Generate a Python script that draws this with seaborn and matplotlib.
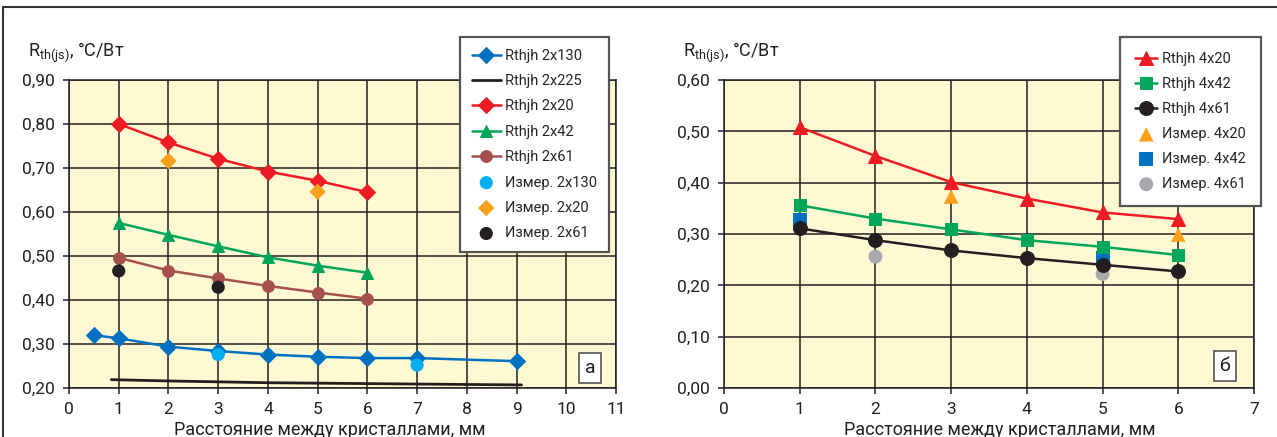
import matplotlib
matplotlib.use("Agg")
import matplotlib.pyplot as plt
from matplotlib.lines import Line2D
import seaborn as sns

# ---- panel a data ----
x_2x130 = [0.5, 1, 2, 3, 4, 5, 6, 7, 9]
y_2x130 = [0.320, 0.313, 0.294, 0.284, 0.276, 0.271, 0.268, 0.268, 0.261]
x_2x225 = [0.85, 2, 3, 4, 5, 6, 7, 8, 9.1]
y_2x225 = [0.219, 0.216, 0.214, 0.212, 0.211, 0.210, 0.209, 0.208, 0.207]
x_2x = [1, 2, 3, 4, 5, 6]
y_2x20 = [0.800, 0.758, 0.721, 0.692, 0.671, 0.645]
y_2x42 = [0.575, 0.548, 0.522, 0.497, 0.478, 0.462]
y_2x61 = [0.496, 0.467, 0.449, 0.432, 0.417, 0.403]
xm_2x130 = [3, 7]
ym_2x130 = [0.276, 0.252]
xm_2x20 = [2, 5]
ym_2x20 = [0.716, 0.646]
xm_2x61 = [1, 3]
ym_2x61 = [0.466, 0.429]

# ---- panel б data ----
x_4x = [1, 2, 3, 4, 5, 6]
y_4x20 = [0.508, 0.452, 0.401, 0.369, 0.342, 0.329]
y_4x42 = [0.356, 0.330, 0.309, 0.288, 0.275, 0.259]
y_4x61 = [0.311, 0.288, 0.268, 0.253, 0.240, 0.227]
xm_4x20 = [3, 6]
ym_4x20 = [0.373, 0.299]
xm_4x42 = [1, 5]
ym_4x42 = [0.328, 0.253]
xm_4x61 = [2, 5]
ym_4x61 = [0.256, 0.222]

yticks_a = [0.20, 0.30, 0.40, 0.50, 0.60, 0.70, 0.80, 0.90]
ylabels_a = ["0,20", "0,30", "0,40", "0,50", "0,60", "0,70", "0,80", "0,90"]
yticks_b = [0.0, 0.1, 0.2, 0.3, 0.4, 0.5, 0.6]
ylabels_b = ["0,00", "0,10", "0,20", "0,30", "0,40", "0,50", "0,60"]
xticks_a = list(range(0, 12))
xticks_b = list(range(0, 8))

RED = "#ED1C24"
GREEN = "#00A65A"
BROWN = "#A4504E"
BLUE = "#0070C0"
CYAN = "#00AEEF"
ORANGE = "#F9A11B"
GREY = "#A7A9AC"
BLACK = "#231F20"
BG = "#FFF9D3"

sns.set_style("ticks")
plt.rcParams["font.family"] = ["Roboto", "DejaVu Sans"]
plt.rcParams["mathtext.fontset"] = "custom"
plt.rcParams["mathtext.rm"] = "Roboto"

fig = plt.figure(figsize=(12.77, 4.37), dpi=100)
ax1 = fig.add_axes([69 / 1277, 1 - 388 / 437, 547 / 1277, 308 / 437])
ax2 = fig.add_axes([724 / 1277, 1 - 388 / 437, 530 / 1277, 308 / 437])

lw = 1.8


def line(ax, x, y, c, m, ms, lab):
    sns.lineplot(x=x, y=y, ax=ax, color=c, marker=m, markersize=ms, markeredgecolor=c,
                 linewidth=lw, label=lab, zorder=3)


def pts(ax, x, y, c, m, s, lab, z=4):
    sns.scatterplot(x=x, y=y, ax=ax, color=c, marker=m, s=s, edgecolor="none",
                    label=lab, zorder=z)


# panel a
line(ax1, x_2x130, y_2x130, BLUE, "D", 8, "Rthjh 2x130")
sns.lineplot(x=x_2x225, y=y_2x225, ax=ax1, color=BLACK, linewidth=2.0, label="Rthjh 2x225", zorder=3)
line(ax1, x_2x, y_2x20, RED, "D", 8, "Rthjh 2x20")
line(ax1, x_2x, y_2x42, GREEN, "^", 9, "Rthjh 2x42")
line(ax1, x_2x, y_2x61, BROWN, "o", 8.5, "Rthjh 2x61")
pts(ax1, xm_2x130, ym_2x130, CYAN, "o", 90, "Измер. 2x130")
pts(ax1, xm_2x20, ym_2x20, ORANGE, "D", 70, "Измер. 2x20")
pts(ax1, xm_2x61, ym_2x61, BLACK, "o", 90, "Измер. 2x61")

# panel б
pts(ax2, xm_4x20, ym_4x20, ORANGE, "^", 110, "Измер. 4x20", z=2.5)
pts(ax2, xm_4x42, ym_4x42, BLUE, "s", 100, "Измер. 4x42", z=2.5)
pts(ax2, xm_4x61, ym_4x61, GREY, "o", 100, "Измер. 4x61", z=2.5)
line(ax2, x_4x, y_4x20, RED, "^", 10, "Rthjh 4x20")
line(ax2, x_4x, y_4x42, GREEN, "s", 9, "Rthjh 4x42")
line(ax2, x_4x, y_4x61, BLACK, "o", 10, "Rthjh 4x61")

for ax, xt, yt, yl, lab, xy in [
    (ax1, xticks_a, yticks_a, ylabels_a, "а", (0.953, 0.065)),
    (ax2, xticks_b, yticks_b, ylabels_b, "б", (0.945, 0.071)),
]:
    ax.set_facecolor(BG)
    ax.set_xlim(xt[0], xt[-1])
    ax.set_ylim(yt[0], yt[-1])
    ax.set_xticks(xt)
    ax.set_xticklabels([str(v) for v in xt])
    ax.set_yticks(yt)
    ax.set_yticklabels(yl)
    ax.grid(True, color=BLACK, linewidth=1.1)
    ax.set_axisbelow(True)
    for s in ax.spines.values():
        s.set_color(BLACK)
        s.set_linewidth(1.1)
    ax.tick_params(axis="both", labelsize=12.5, length=4, width=1.1, color=BLACK,
                   labelcolor=BLACK, pad=6)
    ax.set_xlabel("")
    ax.set_ylabel("")
    ax.text(xy[0], xy[1], lab, transform=ax.transAxes, ha="center", va="center",
            fontsize=14, color=BLACK, zorder=6,
            bbox=dict(boxstyle="square,pad=0.3", facecolor="white", edgecolor="#555555",
                      linewidth=1.2))
    if ax.get_legend() is not None:
        ax.get_legend().remove()


def make_legend(ax, order, anchor, spacing, bpad, hl):
    h, l = ax.get_legend_handles_labels()
    d = dict(zip(l, h))
    leg = ax.legend([d[k] for k in order], order, loc="upper left",
                    bbox_to_anchor=anchor, bbox_transform=fig.transFigure,
                    borderaxespad=0, frameon=True, fancybox=False, fontsize=10.5,
                    handlelength=hl, handletextpad=0.3, labelspacing=spacing,
                    borderpad=bpad)
    leg.get_frame().set_edgecolor("#555555")
    leg.get_frame().set_linewidth(1.6)
    leg.get_frame().set_alpha(1)
    leg.set_zorder(10)


make_legend(ax1, ["Rthjh 2x130", "Rthjh 2x225", "Rthjh 2x20", "Rthjh 2x42", "Rthjh 2x61",
                  "Измер. 2x130", "Измер. 2x20", "Измер. 2x61"],
            (460 / 1277, 1 - 37 / 437), 0.78, 0.8, 2.0)
make_legend(ax2, ["Rthjh 4x20", "Rthjh 4x42", "Rthjh 4x61", "Измер. 4x20", "Измер. 4x42",
                  "Измер. 4x61"],
            (1120 / 1277, 1 - 37 / 437), 0.75, 1.05, 1.5)

ylab = r"R$_{\mathregular{th(js)}}$, °C/Вт"
fig.text(28 / 1277, 1 - 52 / 437, ylab, fontsize=13, color=BLACK, va="center", ha="left")
fig.text(683 / 1277, 1 - 52 / 437, ylab, fontsize=13, color=BLACK, va="center", ha="left")
xlab = "Расстояние между кристаллами, мм"
fig.text(330 / 1277, 1 - 430 / 437, xlab, fontsize=13, color=BLACK, va="center", ha="center")
fig.text(1000 / 1277, 1 - 430 / 437, xlab, fontsize=13, color=BLACK, va="center", ha="center")

# outer frame
fig.add_artist(Line2D([3 / 1277, 1], [1 - 7 / 437, 1 - 7 / 437], transform=fig.transFigure,
                      color="#333333", linewidth=1.5))
fig.add_artist(Line2D([3 / 1277, 3 / 1277], [0, 1 - 7 / 437], transform=fig.transFigure,
                      color="#333333", linewidth=1.5))

fig.savefig("out.png", dpi=100)
